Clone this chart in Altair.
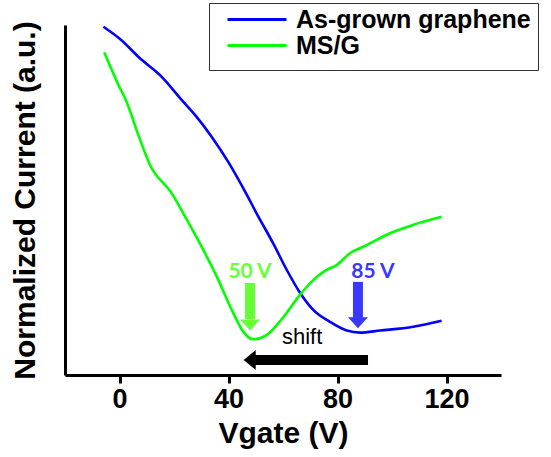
import altair as alt
import pandas as pd

# ---- data ----
vgate_blue = [-5.9, 0.2, 7.5, 15.5, 22.8, 27.7, 33.8, 39.9, 46.1, 50.3, 56.4, 61.4,
              66.0, 71.1, 77.2, 83.4, 88.3, 95.6, 107.8, 118.2]
current_blue = [0.995, 0.960, 0.905, 0.852, 0.786, 0.743, 0.681, 0.609, 0.524, 0.462,
                0.376, 0.300, 0.238, 0.186, 0.152, 0.127, 0.121, 0.127, 0.138, 0.155]

vgate_green = [-5.6, -0.4, 2.6, 6.9, 11.2, 19.2, 23.4, 29.5, 35.7, 41.8, 45.4, 49.1,
               54.0, 59.6, 66.2, 71.1, 77.2, 79.1, 84.6, 90.7, 99.3, 107.8, 118.2]
current_green = [0.922, 0.829, 0.781, 0.686, 0.600, 0.519, 0.462, 0.376, 0.281, 0.176,
                 0.124, 0.102, 0.114, 0.160, 0.229, 0.271, 0.305, 0.311, 0.348, 0.371,
                 0.405, 0.429, 0.452]

series_names = ["As-grown graphene", "MS/G"]
series_colors = ["#0000FF", "#00FF00"]

x_ticks = [0, 40, 80, 120]

# annotations (data coordinates)
label_texts = ["50 V", "85 V"]
label_x = [47.9, 93.0]
label_y = [0.294, 0.294]
label_colors = ["#66FF33", "#3838FF"]

# vertical arrows: shaft top, shaft bottom, head centre
varrow_x = [47.9, 87.5]
varrow_top = [0.263, 0.266]
varrow_bot = [0.160, 0.163]
varrow_head = [0.143, 0.149]
varrow_colors = ["#66FF33", "#3838FF"]

# shift arrow
shift_tail_x = 91.2
shift_base_x = 49.7
shift_head_x = 47.8
shift_y = 0.043
shift_text = "shift"
shift_text_x = 67.0
shift_text_y = 0.109

# ---- tables ----
curves = pd.DataFrame({
    "Vgate": vgate_blue + vgate_green,
    "Current": current_blue + current_green,
    "Sample": [series_names[0]] * len(vgate_blue) + [series_names[1]] * len(vgate_green),
})
labels_df = pd.DataFrame({"x": label_x, "y": label_y, "t": label_texts, "c": label_colors})
varrow_df = pd.DataFrame({"x": varrow_x, "y1": varrow_top, "y2": varrow_bot,
                          "yh": varrow_head, "c": varrow_colors})
shift_df = pd.DataFrame({"x1": [shift_tail_x], "x2": [shift_base_x], "xh": [shift_head_x],
                         "y": [shift_y], "tx": [shift_text_x], "ty": [shift_text_y],
                         "t": [shift_text]})

FONT = "Liberation Sans"
xsc = alt.Scale(domain=[-20, 140], nice=False, zero=False)
ysc = alt.Scale(domain=[0, 1], nice=False, zero=False)

lines = alt.Chart(curves).mark_line(strokeWidth=2.6, interpolate="monotone").encode(
    x=alt.X("Vgate:Q", scale=xsc,
            axis=alt.Axis(title="Vgate (V)", values=x_ticks, grid=False,
                          labelFont=FONT, labelFontSize=27, labelFontWeight="bold",
                          labelColor="black", labelPadding=3,
                          tickSize=8, tickWidth=3, tickColor="black",
                          domainWidth=3, domainColor="black",
                          titleFont=FONT, titleFontSize=30, titleFontWeight="bold",
                          titleColor="black", titlePadding=6)),
    y=alt.Y("Current:Q", scale=ysc,
            axis=alt.Axis(title="Normalized Current (a.u.)", labels=False, ticks=False,
                          grid=False, domainWidth=3, domainColor="black",
                          titleFont=FONT, titleFontSize=30, titleFontWeight="bold",
                          titleColor="black", titleX=-40, titleY=175, titleAngle=270,
                          titleAlign="center", titleBaseline="middle")),
    color=alt.Color("Sample:N",
                    scale=alt.Scale(domain=series_names, range=series_colors),
                    legend=alt.Legend(orient="none", legendX=144, legendY=-22,
                                      title=" ", titleOrient="bottom", titleFontSize=4,
                                      titlePadding=0,
                                      labelFont=FONT, labelFontSize=25,
                                      labelFontWeight="bold", labelColor="black",
                                      symbolType="stroke", symbolSize=3481,
                                      symbolStrokeWidth=3, clipHeight=19, rowPadding=0,
                                      padding=7, strokeColor="#333333", fillColor="white",
                                      labelOffset=8, symbolOffset=10, labelLimit=400)),
)

vshaft = alt.Chart(varrow_df).mark_rule(strokeWidth=10, strokeCap="butt").encode(
    x=alt.X("x:Q", scale=xsc), y=alt.Y("y1:Q", scale=ysc), y2="y2:Q",
    color=alt.Color("c:N", scale=None),
)
vhead = alt.Chart(varrow_df).mark_point(
    shape="M-1,-0.55L1,-0.55L0,0.55Z", size=400, filled=True, opacity=1
).encode(
    x=alt.X("x:Q", scale=xsc), y=alt.Y("yh:Q", scale=ysc),
    color=alt.Color("c:N", scale=None),
)
vlabels = alt.Chart(labels_df).mark_text(
    font="Lato", fontWeight="bold", fontSize=21, align="center", baseline="middle"
).encode(
    x=alt.X("x:Q", scale=xsc), y=alt.Y("y:Q", scale=ysc), text="t:N",
    color=alt.Color("c:N", scale=None),
)
hshaft = alt.Chart(shift_df).mark_rule(strokeWidth=10, strokeCap="butt", color="black").encode(
    x=alt.X("x1:Q", scale=xsc), x2="x2:Q", y=alt.Y("y:Q", scale=ysc),
)
hhead = alt.Chart(shift_df).mark_point(
    shape="M-0.6,0L0.6,-1L0.6,1Z", size=400, filled=True, opacity=1, color="black"
).encode(
    x=alt.X("xh:Q", scale=xsc), y=alt.Y("y:Q", scale=ysc),
)
htext = alt.Chart(shift_df).mark_text(
    font=FONT, fontSize=22, align="center", baseline="middle", color="black"
).encode(
    x=alt.X("tx:Q", scale=xsc), y=alt.Y("ty:Q", scale=ysc), text="t:N",
)

chart = alt.layer(lines, vshaft, vhead, vlabels, hshaft, hhead, htext).properties(
    width=436, height=350,
    autosize=alt.AutoSizeParams(type="none"),
    padding={"left": 65, "top": 25, "right": 50, "bottom": 82},
    background="white",
).configure_view(strokeWidth=0)

chart.save("out.html", embed_options={"renderer": "svg", "actions": False})
